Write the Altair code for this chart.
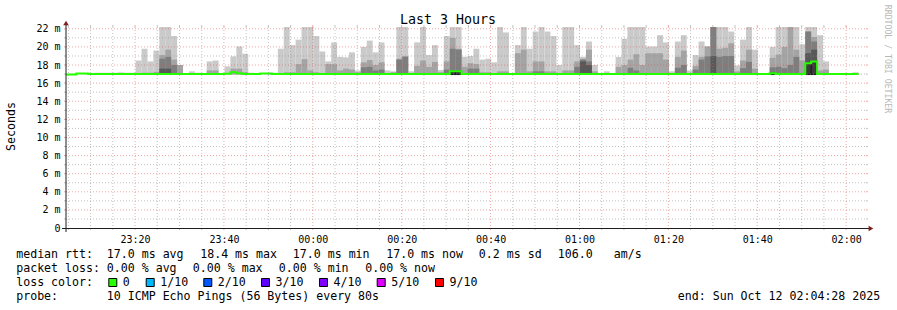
import json
import pandas as pd
import altair as alt

FONT = "DejaVu Sans Mono"

# ---------------- data ----------------
START_MIN = 4 + 28 / 60          # 23:04:28, minutes after 23:00
SPAN_MIN = 180
STEP_SEC = 80
X_TICKS = [20, 40, 60, 80, 100, 120, 140, 160, 180]
X_TICK_LABELS = ["23:20", "23:40", "00:00", "00:20", "00:40", "01:00", "01:20", "01:40", "02:00"]
Y_TICKS = list(range(0, 23, 2))
Y_MAX = 22.2

# smoke layer tops (ms), one value per 80 s step; 0 = no smoke
L1 = [
    0, 0, 0, 0, 0, 17.15, 17.15, 17.15, 17.15, 17.15,
    17.15, 17.15, 18.5, 19.8, 18.4, 19.6, 22.3, 22.3, 21.2, 18.0,
    17.1, 17.3, 17.15, 0, 18.4, 18.5, 0, 17.85, 18.95, 20.05,
    19.25, 17.15, 0, 0, 17.15, 17.15, 19.8, 22.3, 20.2, 20.8,
    22.3, 22.3, 21.2, 19.5, 18.4, 20.5, 18.9, 18.85, 19.4, 17.4,
    20.0, 20.7, 19.4, 20.5, 17.4, 17.3, 22.3, 22.3, 17.3, 20.5,
    22.3, 19.1, 20.2, 17.45, 21.2, 22.3, 22.3, 18.9, 19.0, 19.8,
    18.6, 18.7, 18.3, 22.3, 21.6, 0, 20.2, 22.3, 19.8, 21.7,
    22.3, 21.7, 21.2, 18.0, 22.3, 22.3, 20.2, 18.9, 20.6, 18.0,
    0, 17.3, 0, 18.9, 20.9, 22.3, 22.3, 22.3, 20.05, 20.05,
    21.3, 20.5, 17.3, 20.6, 21.3, 17.4, 19.1, 20.6, 20.05, 22.3,
    22.3, 22.3, 21.7, 17.95, 20.8, 22.3, 19.7, 0, 0, 20.0,
    22.3, 22.3, 22.3, 22.3, 20.3, 22.3, 22.3, 21.3, 18.4, 0,
    0, 0, 0, 17.2,
]
L2 = [
    0, 0, 0, 0, 0, 0, 0, 0, 0, 17.15,
    0, 0, 17.1, 17.15, 17.15, 17.25, 19.1, 19.7, 18.6, 18.0,
    0, 0, 0, 0, 17.4, 17.4, 0, 0, 17.6, 17.6,
    17.2, 0, 0, 0, 0, 0, 0, 17.2, 17.2, 18.1,
    18.65, 17.4, 17.2, 0, 18.1, 18.1, 17.4, 17.6, 17.5, 17.2,
    18.3, 18.55, 18.0, 18.3, 0, 17.2, 18.7, 19.0, 0, 17.9,
    18.5, 17.8, 18.35, 17.2, 18.4, 21.0, 19.8, 17.8, 18.2, 18.1,
    17.2, 17.2, 0, 17.3, 17.3, 0, 19.3, 19.7, 17.3, 18.4,
    18.4, 17.3, 17.3, 0, 17.4, 17.4, 18.4, 18.7, 19.7, 17.3,
    0, 0, 0, 17.8, 18.0, 18.6, 19.2, 18.0, 19.3, 19.3,
    19.3, 18.6, 0, 18.9, 19.6, 0, 17.9, 18.9, 20.05, 22.3,
    19.8, 19.9, 20.4, 17.3, 18.5, 19.7, 17.6, 0, 0, 18.8,
    19.15, 20.0, 22.3, 19.7, 18.5, 21.7, 21.1, 17.4, 17.5, 0,
    0, 0, 0, 0,
]
L3 = [
    0, 0, 0, 0, 0, 0, 0, 0, 0, 0,
    0, 0, 0, 0, 0, 0, 18.7, 18.9, 18.0, 0,
    0, 0, 0, 0, 0, 0, 0, 0, 0, 0,
    0, 0, 0, 0, 0, 0, 0, 0, 0, 0,
    0, 0, 0, 0, 0, 0, 0, 0, 0, 0,
    17.75, 17.8, 17.4, 17.5, 0, 0, 18.6, 18.9, 0, 0,
    0, 0, 0, 0, 17.5, 19.8, 19.7, 0, 17.6, 17.6,
    0, 0, 0, 0, 0, 0, 0, 0, 0, 17.3,
    17.3, 0, 0, 0, 0, 0, 17.8, 18.6, 18.4, 0,
    0, 0, 0, 0, 0, 17.7, 17.4, 0, 0, 0,
    0, 0, 0, 17.7, 18.0, 0, 17.5, 18.6, 18.95, 22.3,
    18.9, 19.0, 19.0, 0, 17.65, 18.35, 0, 0, 0, 17.75,
    17.8, 17.65, 18.0, 18.9, 0, 21.7, 20.6, 0, 0, 0,
    0, 0, 0, 0,
]
L4 = [0] * 134
for _j, _v in [(16, 17.6), (17, 17.6), (87, 18.4), (88, 18.0), (109, 19.0), (125, 19.3), (126, 19.7)]:
    L4[_j] = _v
CORE = [0] * 134
for _j, _v in [(65, 17.3), (66, 17.3), (119, 17.1), (125, 18.2), (126, 18.4)]:
    CORE[_j] = _v

MEDIAN = [17.0] * 134
for _j, _v in [(0, 16.96), (1, 16.96), (2, 17.06), (3, 17.06), (27, 17.05), (28, 17.2), (29, 17.1),
               (33, 17.06), (34, 17.06), (65, 17.3), (66, 17.3), (119, 17.1), (125, 18.2), (126, 18.4)]:
    MEDIAN[_j] = _v

SMOKE_BOTTOM = 16.95
SMOKE_COLORS = ["#cacaca", "#a4a4a4", "#7e7e7e", "#585858"]
GREEN = "#26ff00"

TITLE = "Last 3 Hours"
Y_TITLE = "Seconds"
WATERMARK = "RRDTOOL / TOBI OETIKER"
RTT_ROW = ["median rtt:", "17.0 ms avg", "18.4 ms max", "17.0 ms min", "17.0 ms now", "0.2 ms sd", "106.0", "am/s"]
LOSS_ROW = ["packet loss:", "0.00 % avg", "0.00 % max", "0.00 % min", "0.00 % now"]
LOSS_LABEL = "loss color:"
LOSS_KEYS = ["0", "1/10", "2/10", "3/10", "4/10", "5/10", "9/10"]
LOSS_COLORS = ["#26ff00", "#00b8ff", "#0059ff", "#5e00ff", "#7e00ff", "#dd00ff", "#ff0000"]
PROBE_ROW = ["probe:", "10 ICMP Echo Pings (56 Bytes) every 80s"]
END_TEXT = "end: Sun Oct 12 02:04:28 2025"

# ---------------- layout ----------------
OX, OY = 66, 27          # plot origin on page
W, H = 800, 201
RTT_X = [16.2, 106.8, 200.2, 292.8, 386.2, 478.8, 557.8, 613.8]
LOSS_X = [16.2, 106.8, 192.8, 278.8, 365.2]
KEY_BOX_X = [108.3, 145.7, 203.3, 261.0, 319.0, 376.7, 435.0]
PROBE_X = [16.2, 106.8]
ROW_Y = [258.3, 272.3, 286.3, 300.3]

step_min = STEP_SEC / 60
n = len(MEDIAN)
starts = [START_MIN + (j - 0.25) * step_min for j in range(n)]

xs = alt.Scale(domain=[START_MIN, START_MIN + SPAN_MIN], nice=False, zero=False)
ys = alt.Scale(domain=[0, Y_MAX], nice=False, zero=True)

X_AXIS = alt.Axis(values=X_TICKS, labelExpr=json.dumps(X_TICK_LABELS) + "[round((datum.value - 20) / 20)]",
                  title=None, grid=False, domain=False, ticks=False, labelPadding=6,
                  labelFont=FONT, labelFontSize=10, labelColor="black", labelOverlap=False, labelFlush=False)
Y_AXIS = alt.Axis(values=Y_TICKS, labelExpr="datum.value == 0 ? '0' : datum.value + ' m'",
                  title=None, grid=False, domain=False, ticks=False, labelPadding=6,
                  labelFont=FONT, labelFontSize=10, labelColor="black", labelBaseline="middle")


def X(field):
    return alt.X(field, scale=xs, axis=X_AXIS)


def Y(field):
    return alt.Y(field, scale=ys, axis=Y_AXIS)


one = pd.DataFrame({"k": [0]})
layers = []


def smoke_df(tops):
    rows = [dict(s=starts[j], e=starts[j] + step_min, lo=SMOKE_BOTTOM, hi=v)
            for j, v in enumerate(tops) if v and v > SMOKE_BOTTOM]
    return pd.DataFrame(rows)


for tops, col in zip([L1, L2, L3, L4], SMOKE_COLORS):
    layers.append(
        alt.Chart(smoke_df(tops)).mark_rect(color=col, clip=True).encode(
            x=X("s:Q"), x2="e:Q", y=Y("lo:Q"), y2="hi:Q")
    )
layers.append(
    alt.Chart(smoke_df(CORE)).mark_rect(fill="#3c3c3c", stroke="#1a1a1a", strokeWidth=1, clip=True).encode(
        x=X("s:Q"), x2="e:Q", y=Y("lo:Q"), y2="hi:Q")
)

# grid
GRID_MINOR = "rgba(143,143,143,0.55)"
GRID_MAJOR = "rgba(222,79,79,0.5)"
hmin = pd.DataFrame({"v": [v for v in range(1, 23) if v % 2 == 1]})
hmaj = pd.DataFrame({"v": [v for v in range(2, 23, 2)]})
vmin = pd.DataFrame({"v": [m for m in range(5, 185, 5) if m % 20 != 0]})
vmaj = pd.DataFrame({"v": X_TICKS})
for df, col in [(hmin, GRID_MINOR), (hmaj, GRID_MAJOR)]:
    layers.append(alt.Chart(df).mark_rule(color=col, strokeWidth=1, strokeDash=[1, 2]).encode(
        y=Y("v:Q"), x=alt.value(0), x2=alt.value(W)))
    layers.append(alt.Chart(df).mark_rule(color=col, strokeWidth=1).encode(
        y=Y("v:Q"), x=alt.value(-2), x2=alt.value(0)))
    layers.append(alt.Chart(df).mark_rule(color=col, strokeWidth=1).encode(
        y=Y("v:Q"), x=alt.value(W), x2=alt.value(W + 2)))
for df, col in [(vmin, GRID_MINOR), (vmaj, GRID_MAJOR)]:
    layers.append(alt.Chart(df).mark_rule(color=col, strokeWidth=1, strokeDash=[1, 2]).encode(
        x=X("v:Q"), y=alt.value(0), y2=alt.value(H)))
    layers.append(alt.Chart(df).mark_rule(color=col, strokeWidth=1).encode(
        x=X("v:Q"), y=alt.value(H), y2=alt.value(H + 2)))
    layers.append(alt.Chart(df).mark_rule(color=col, strokeWidth=1).encode(
        x=X("v:Q"), y=alt.value(-2), y2=alt.value(0)))

# median line (step)
med_df = pd.DataFrame({"t": starts + [starts[-1] + step_min], "m": MEDIAN + [MEDIAN[-1]]})
layers.append(alt.Chart(med_df).mark_line(color=GREEN, strokeWidth=2, interpolate="step-after", clip=True).encode(
    x=X("t:Q"), y=Y("m:Q")))

# axis lines and arrows
layers.append(alt.Chart(one).mark_rule(color="#1f1f1f", strokeWidth=1).encode(
    x=alt.value(-4), x2=alt.value(W + 5), y=alt.value(H + 0.5)))
layers.append(alt.Chart(one).mark_rule(color="#1f1f1f", strokeWidth=1).encode(
    x=alt.value(0), y=alt.value(-4), y2=alt.value(H + 4)))
layers.append(alt.Chart(one).mark_point(shape="triangle-up", filled=True, size=30, color="#7f1f1f", opacity=1).encode(
    x=alt.value(0), y=alt.value(-4)))
layers.append(alt.Chart(one).mark_point(shape="triangle-right", filled=True, size=30, color="#7f1f1f", opacity=1).encode(
    x=alt.value(W + 5), y=alt.value(H + 0.5)))


def txt(s, px, py, size=11.6, align="left", baseline="alphabetic", angle=0, color="black"):
    return alt.Chart(pd.DataFrame({"t": [s]})).mark_text(
        font=FONT, fontSize=size, align=align, baseline=baseline, angle=angle, color=color).encode(
        x=alt.value(px - OX), y=alt.value(py - OY), text="t:N")


layers.append(txt(TITLE, 448, 24, size=13.3, align="center"))
layers.append(txt(Y_TITLE, 14.5, 126.5, angle=270, align="center"))
layers.append(txt(WATERMARK, 885, 59, size=8.2, angle=90, align="center", color="#b8b8b8"))
for s, px in zip(RTT_ROW, RTT_X):
    layers.append(txt(s, px, ROW_Y[0]))
for s, px in zip(LOSS_ROW, LOSS_X):
    layers.append(txt(s, px, ROW_Y[1]))
layers.append(txt(LOSS_LABEL, 16.2, ROW_Y[2]))
for s, col, bx in zip(LOSS_KEYS, LOSS_COLORS, KEY_BOX_X):
    layers.append(alt.Chart(one).mark_rect(fill=col, stroke="black", strokeWidth=1).encode(
        x=alt.value(bx - OX + 0.5), x2=alt.value(bx - OX + 8.5), y=alt.value(278.5 - OY), y2=alt.value(286.5 - OY)))
    layers.append(txt(s, bx + 14.5, ROW_Y[2]))
for s, px in zip(PROBE_ROW, PROBE_X):
    layers.append(txt(s, px, ROW_Y[3]))
layers.append(txt(END_TEXT, 677.8, ROW_Y[3]))

chart = alt.layer(*layers).properties(
    width=W, height=H,
    padding={"left": OX, "top": OY, "right": 897 - OX - W, "bottom": 310 - OY - H},
    autosize=alt.AutoSizeParams(type="none"),
    background="white",
).configure_view(stroke=None)

chart.save("out.html", embed_options={"renderer": "svg", "actions": False})
